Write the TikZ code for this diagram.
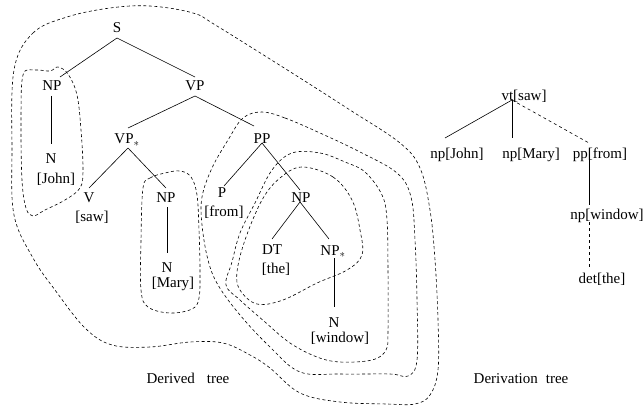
\documentclass[tikz,border=0pt]{standalone}
\usepackage{fontspec}
\setmainfont{Liberation Serif}
\begin{document}
\begin{tikzpicture}[x=1pt,y=-1pt,
  lbl/.style={anchor=base, inner sep=0pt, font=\fontsize{15}{18}\selectfont},
  tedge/.style={line width=0.6pt},
  dedge/.style={line width=0.6pt, dash pattern=on 3pt off 3pt},
  region/.style={line width=0.6pt, dash pattern=on 3pt off 2.5pt}]
\useasboundingbox (0,0) rectangle (644,406);

% ---------- derived tree labels ----------
\node[lbl] (S) at (117,33) {S};
\node[lbl] (NPj) at (52,91) {NP};
\node[lbl] (VP) at (195,91) {VP};
\node[lbl] (VPs) at (127,144) {VP$_*$};
\node[lbl] (Nj) at (51,164) {N};
\node[lbl] (John) at (56,183) {[John]};
\node[lbl] (V) at (89,202) {V};
\node[lbl] (saw) at (92,221) {[saw]};
\node[lbl] (NPm) at (166,202) {NP};
\node[lbl] (Nm) at (167,272) {N};
\node[lbl] (Mary) at (173,287) {[Mary]};
\node[lbl] (PP) at (262,143) {PP};
\node[lbl] (P) at (222,197) {P};
\node[lbl] (from) at (224,216) {[from]};
\node[lbl] (NPw) at (301,202) {NP};
\node[lbl] (DT) at (272,254) {DT};
\node[lbl] (the) at (276,273) {[the]};
\node[lbl] (NPs) at (333,255) {NP$_*$};
\node[lbl] (Nw) at (334,327) {N};
\node[lbl] (window) at (340,342) {[window]};
\node[lbl] (dtree) at (188,383) {Derived\hspace{12pt}tree};

% ---------- derivation tree labels ----------
\node[lbl] (vt) at (524,101) {vt[saw]};
\node[lbl] (npj) at (457,158) {np[John]};
\node[lbl] (npm) at (531,158) {np[Mary]};
\node[lbl] (ppf) at (600,158) {pp[from]};
\node[lbl] (npw) at (607,219) {np[window]};
\node[lbl] (det) at (602,283) {det[the]};
\node[lbl] (dvtree) at (521,383) {Derivation\hspace{8pt}tree};

% ---------- edge end points ----------
\coordinate (Sb) at (117,38);
\coordinate (NPjt) at (60,77);
\coordinate (VPt) at (195,77);
\coordinate (NPjb) at (51,96);
\coordinate (Njt) at (51,144);
\coordinate (VPb) at (195,96);
\coordinate (VPst) at (128,128);
\coordinate (PPt) at (254,126);
\coordinate (VPsb) at (128,148);
\coordinate (Vt) at (89,188);
\coordinate (NPmt) at (166,188);
\coordinate (NPmb) at (167,207);
\coordinate (Nmt) at (167,253);
\coordinate (PPb) at (262,143);
\coordinate (Pt) at (224,186);
\coordinate (NPwt) at (300,190);
\coordinate (NPwb) at (300,202);
\coordinate (DTt) at (272,239);
\coordinate (NPst) at (329,239);
\coordinate (NPsb) at (334,258);
\coordinate (Nwt) at (334,307);

\coordinate (vtb) at (512,100);
\coordinate (npjt) at (445,138);
\coordinate (npmt) at (512,138);
\coordinate (ppft) at (589,143);
\coordinate (ppfb) at (589,158);
\coordinate (npwt) at (589,205);
\coordinate (npwb) at (589,222);
\coordinate (dett) at (589,267);

% ---------- derived tree edges ----------
\draw[tedge] (Sb) -- (NPjt);
\draw[tedge] (Sb) -- (VPt);
\draw[tedge] (NPjb) -- (Njt);
\draw[tedge] (VPb) -- (VPst);
\draw[tedge] (VPb) -- (PPt);
\draw[tedge] (VPsb) -- (Vt);
\draw[tedge] (VPsb) -- (NPmt);
\draw[tedge] (NPmb) -- (Nmt);
\draw[tedge] (PPb) -- (Pt);
\draw[tedge] (PPb) -- (NPwt);
\draw[tedge] (NPwb) -- (DTt);
\draw[tedge] (NPwb) -- (NPst);
\draw[tedge] (NPsb) -- (Nwt);

% ---------- derivation tree edges ----------
\draw[tedge] (vtb) -- (npjt);
\draw[tedge] (vtb) -- (npmt);
\draw[dedge] (vtb) -- (ppft);
\draw[tedge] (ppfb) -- (npwt);
\draw[dedge] (npwb) -- (dett);

% ---------- dashed regions ----------
% outer
\draw[region] plot[smooth cycle, tension=0.6] coordinates {
 (14,70) (33,33) (67,17) (110,8) (150,6) (193,13) (217,26) (300,78)
 (350,110) (400,143) (420,168) (430,210) (435,260) (438,320) (438,370)
 (430,395) (415,404) (387,404) (340,402) (300,393) (270,368) (250,355)
 (223,343) (190,342) (150,347) (112,345) (85,328) (55,290) (33,258)
 (14,215) (12,150)};
% John
\draw[region] plot[smooth cycle, tension=0.6] coordinates {
 (23,75) (35,70) (50,71) (58,67) (68,74) (77,95) (81,130) (83,170)
 (80,188) (65,200) (45,210) (33,216) (26,208) (22,180) (21,120)};
% Mary
\draw[region] plot[smooth cycle, tension=0.6] coordinates {
 (143,188) (150,178) (165,173) (180,171) (191,177) (197,195) (199,230)
 (200,270) (199,298) (192,309) (170,313) (148,307) (141,290) (141,240)};
% PP
\draw[region] plot[smooth cycle, tension=0.6] coordinates {
 (262,112) (285,118) (320,133) (360,152) (397,173) (411,197) (415,240)
 (417,300) (417,360) (408,376) (390,374) (340,374) (300,372) (270,347)
 (240,315) (218,285) (208,260) (202,225) (202,197) (212,168) (228,140)
 (243,118)};
% NP (middle)
\draw[region] plot[smooth cycle, tension=0.6] coordinates {
 (292,153) (320,153) (345,162) (365,172) (382,195) (387,220) (388,270)
 (388,330) (386,350) (372,360) (340,362) (317,357) (290,343) (265,322)
 (240,300) (226,285) (232,262) (240,233) (255,203) (272,170)};
% NP (inner)
\draw[region] plot[smooth cycle, tension=0.6] coordinates {
 (302,167) (333,177) (352,200) (360,230) (362,255) (347,270) (317,283)
 (283,300) (257,304) (240,290) (237,272) (245,240) (262,200) (280,178)};
\end{tikzpicture}
\end{document}
